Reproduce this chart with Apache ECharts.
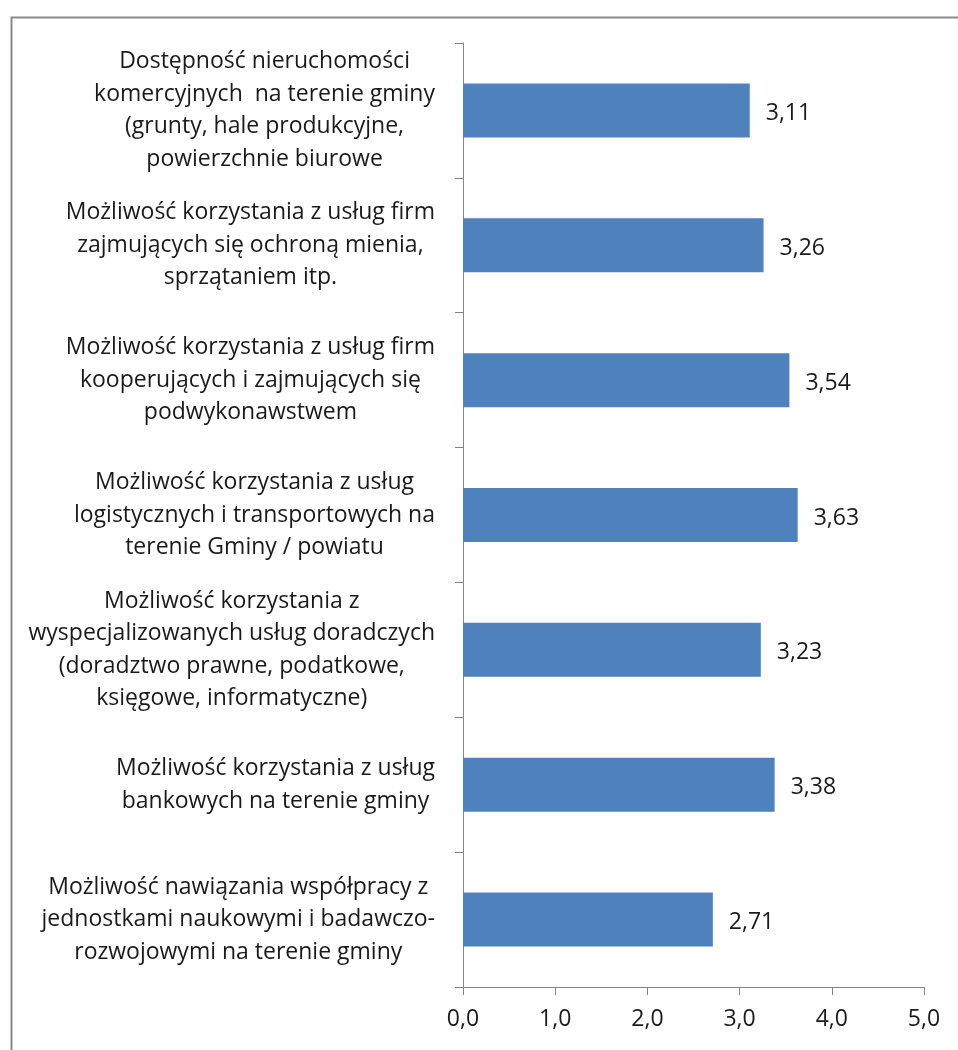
<!DOCTYPE html>
<html>
<head>
<meta charset="utf-8">
<script src="https://cdn.jsdelivr.net/npm/echarts@6.0.0/dist/echarts.min.js"></script>
<style>
    html, body { margin: 0; padding: 0; background: #ffffff; }
    #chart { width: 958px; height: 1050px; }
</style>
</head>
<body>
<div id="chart"></div>
<script>
// Categories listed top to bottom, each line of the wrapped label separately
const categories = [
    ["Dostępność nieruchomości", "komercyjnych  na terenie gminy", "(grunty, hale produkcyjne,", "powierzchnie biurowe"],
    ["Możliwość korzystania z usług firm", "zajmujących się ochroną mienia,", "sprzątaniem itp."],
    ["Możliwość korzystania z usług firm", "kooperujących i zajmujących się", "podwykonawstwem"],
    ["Możliwość korzystania z usług", "logistycznych i transportowych na", "terenie Gminy / powiatu"],
    ["Możliwość korzystania z", "wyspecjalizowanych usług doradczych", "(doradztwo prawne, podatkowe,", "księgowe, informatyczne)"],
    ["Możliwość korzystania z usług", "bankowych na terenie gminy"],
    ["Możliwość nawiązania współpracy z", "jednostkami naukowymi i badawczo-", "rozwojowymi na terenie gminy"],
];
const values = [3.11, 3.26, 3.54, 3.63, 3.23, 3.38, 2.71];
const xTicks = { min: 0, max: 5, step: 1 };

const fontFamily = "'Open Sans', sans-serif";
const fontSize = 23;
const textColor = "#1a1a1a";
const axisColor = "#868686";

const chart = echarts.init(document.getElementById("chart"), null, { renderer: "canvas" });

const option = {
    animation: false,
    backgroundColor: "#ffffff",
    graphic: [
        {
            type: "rect",
            left: 9,
            top: 15,
            shape: { width: 1000, height: 1100 },
            style: { fill: "none", stroke: "#8a8a8a", lineWidth: 2 },
            silent: true,
        },
    ],
    grid: {
        left: 463,
        right: 34,
        top: 43,
        bottom: 63,
        containLabel: false,
    },
    xAxis: {
        type: "value",
        min: xTicks.min,
        max: xTicks.max,
        interval: xTicks.step,
        axisLine: { show: true, lineStyle: { color: axisColor, width: 1 } },
        axisTick: { show: true, length: 8, lineStyle: { color: axisColor } },
        splitLine: { show: false },
        axisLabel: {
            margin: 21,
            color: textColor,
            fontFamily: fontFamily,
            fontSize: fontSize,
            formatter: (v) => v.toFixed(1).replace(".", ","),
        },
    },
    yAxis: {
        type: "category",
        inverse: true,
        data: categories.map((lines) => lines.join("\n")),
        axisLine: { show: true, lineStyle: { color: axisColor, width: 1 } },
        axisTick: { show: true, length: 8, lineStyle: { color: axisColor } },
        axisLabel: {
            margin: 28,
            align: "right",
            color: textColor,
            fontFamily: fontFamily,
            fontSize: fontSize,
            lineHeight: 32.5,
            interval: 0,
            formatter: (v) => v.split("\n").map((line) => `{c|${line}}`).join("\n"),
            rich: {
                c: {
                    align: "center",
                    fontFamily: fontFamily,
                    fontSize: fontSize,
                    lineHeight: 32.5,
                    color: textColor,
                },
            },
        },
    },
    series: [
        {
            type: "bar",
            data: values,
            barWidth: 54,
            itemStyle: { color: "#4f81bd" },
            label: {
                show: true,
                position: "right",
                distance: 16,
                offset: [0, 3],
                color: textColor,
                fontFamily: fontFamily,
                fontSize: fontSize,
                formatter: (p) => p.value.toFixed(2).replace(".", ","),
            },
        },
    ],
};

chart.setOption(option);
</script>
</body>
</html>
